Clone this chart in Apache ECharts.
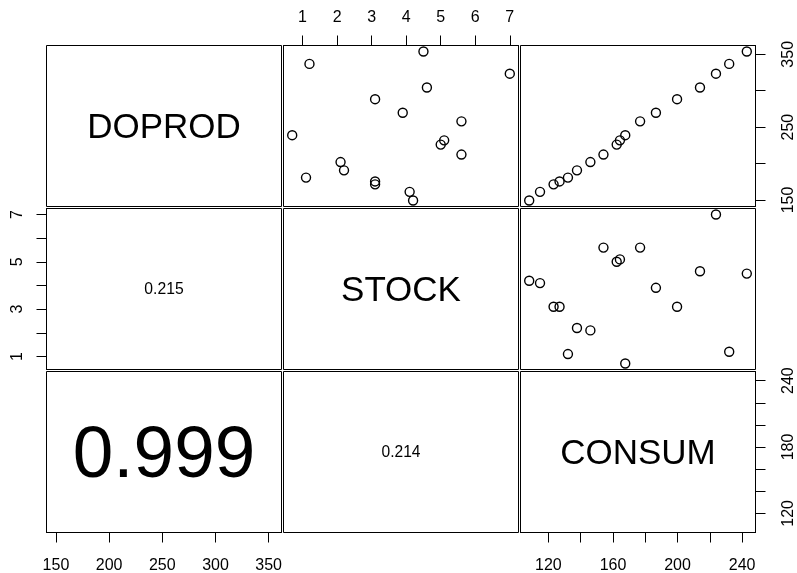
<!DOCTYPE html>
<html>
<head>
<meta charset="utf-8">
<script src="https://cdn.jsdelivr.net/npm/echarts@6/dist/echarts.min.js"></script>
<style>
  html, body { margin: 0; padding: 0; background: #fff; }
  #chart { width: 797px; height: 573px; }
</style>
</head>
<body>
<div id="chart"></div>
<script>
// French economy, 1949-1966
const varNames = ['DOPROD', 'STOCK', 'CONSUM'];
const doprod = [149.3, 161.2, 171.5, 175.5, 180.8, 190.7, 202.1, 212.4, 226.1, 231.9, 239.0, 258.0, 269.8, 288.4, 304.5, 323.4, 336.8, 353.9];
const stock  = [4.2, 4.1, 3.1, 3.1, 1.1, 2.2, 2.1, 5.6, 5.0, 5.1, 0.7, 5.6, 3.9, 3.1, 4.6, 7.0, 1.2, 4.5];
const consum = [108.1, 114.8, 123.2, 126.9, 132.1, 137.7, 146.0, 154.1, 162.3, 164.3, 167.6, 176.8, 186.6, 199.7, 213.9, 223.8, 232.0, 242.9];

// tick positions and the subset that carries a label
const doprodTicks = [150, 200, 250, 300, 350];
const doprodRightLabels = [150, 250, 350];
const stockTicks = [1, 2, 3, 4, 5, 6, 7];
const stockLeftLabels = [1, 3, 5, 7];
const consumTicks = [120, 140, 160, 180, 200, 220, 240];
const consumBottomLabels = [120, 160, 200, 240];
const consumRightLabels = [120, 180, 240];

const vars = [doprod, stock, consum];

// panel layout (half-pixel edges keep 1px borders crisp)
const colLeft = [46.5, 283.5, 520.5];
const rowTop = [45.5, 208.5, 371.5];
const panelW = 235, panelH = 161;
const FONT = '"Liberation Sans", Arial, Helvetica, sans-serif';

// axis range padded by 4% on each side
function range(arr) {
  const lo = Math.min(...arr), hi = Math.max(...arr);
  const pad = (hi - lo) * 0.04;
  return [lo - pad, hi + pad];
}
function corr(a, b) {
  const n = a.length;
  const ma = a.reduce((s, v) => s + v, 0) / n;
  const mb = b.reduce((s, v) => s + v, 0) / n;
  let sab = 0, saa = 0, sbb = 0;
  for (let i = 0; i < n; i++) {
    sab += (a[i] - ma) * (b[i] - mb);
    saa += (a[i] - ma) ** 2;
    sbb += (b[i] - mb) ** 2;
  }
  return sab / Math.sqrt(saa * sbb);
}

const ranges = vars.map(range);

// which outer axis each panel carries
const xAxisSpec = {
  '2-0': { pos: 'bottom', ticks: doprodTicks, labels: doprodTicks, margin: 25 },
  '0-1': { pos: 'top', ticks: stockTicks, labels: stockTicks, margin: 20 },
  '2-2': { pos: 'bottom', ticks: consumTicks, labels: consumBottomLabels, margin: 25 }
};
const yAxisSpec = {
  '0-2': { pos: 'right', ticks: doprodTicks, labels: doprodRightLabels, margin: 25 },
  '1-0': { pos: 'left', ticks: stockTicks, labels: stockLeftLabels, margin: 21 },
  '2-2': { pos: 'right', ticks: consumTicks, labels: consumRightLabels, margin: 25 }
};

const grids = [], xAxes = [], yAxes = [], series = [], graphics = [];

function axisFor(spec, isY, rng, gridIndex) {
  const base = {
    type: 'value',
    gridIndex,
    min: rng[0],
    max: rng[1],
    splitLine: { show: false },
    axisLine: { show: false },
    axisTick: { show: false },
    axisLabel: { show: false }
  };
  if (!spec) return base;
  base.position = spec.pos;
  base.axisLine = { show: true, onZero: false, lineStyle: { color: '#000', width: 1 } };
  base.axisTick = { show: true, inside: false, length: 10, customValues: spec.ticks, lineStyle: { color: '#000', width: 1 } };
  base.axisLabel = {
    show: true,
    customValues: spec.labels,
    color: '#000',
    fontSize: 16,
    fontFamily: FONT,
    margin: spec.margin,
    rotate: isY ? 90 : 0,
    hideOverlap: false
  };
  return base;
}

for (let r = 0; r < 3; r++) {
  for (let c = 0; c < 3; c++) {
    const gi = grids.length;
    grids.push({
      left: colLeft[c], top: rowTop[r], width: panelW, height: panelH,
      show: true, borderColor: '#000', borderWidth: 1, backgroundColor: 'transparent',
      containLabel: false, outerBoundsMode: 'none'
    });
    const key = r + '-' + c;
    xAxes.push(axisFor(xAxisSpec[key], false, ranges[c], gi));
    yAxes.push(axisFor(yAxisSpec[key], true, ranges[r], gi));

    const cx = colLeft[c] + panelW / 2;
    const cy = rowTop[r] + panelH / 2;
    if (r === c) {
      const fs = 35;
      graphics.push({
        type: 'text', x: cx, y: cy + 0.07 * fs, silent: true,
        style: { text: varNames[r], fill: '#000', fontSize: fs, fontFamily: FONT, align: 'center', verticalAlign: 'middle' }
      });
    } else if (c > r) {
      series.push({
        type: 'scatter',
        xAxisIndex: gi, yAxisIndex: gi,
        data: vars[c].map((v, i) => [v, vars[r][i]]),
        symbol: 'circle',
        symbolSize: 9,
        itemStyle: { color: 'rgba(0,0,0,0)', borderColor: '#000', borderWidth: 1.4, opacity: 1 },
        silent: true
      });
    } else {
      // lower panels: correlation, text size scaled by |r|
      const rv = corr(vars[r], vars[c]);
      const txt = Math.abs(rv).toFixed(3);
      const fs = 73 * Math.abs(rv);
      graphics.push({
        type: 'text', x: cx, y: cy + 0.07 * fs, silent: true,
        style: { text: txt, fill: '#000', fontSize: fs, fontFamily: FONT, align: 'center', verticalAlign: 'middle' }
      });
    }
  }
}

const chart = echarts.init(document.getElementById('chart'), null, { renderer: 'canvas' });
chart.setOption({
  animation: false,
  backgroundColor: '#fff',
  grid: grids,
  xAxis: xAxes,
  yAxis: yAxes,
  series: series,
  graphic: graphics
});
</script>
</body>
</html>
